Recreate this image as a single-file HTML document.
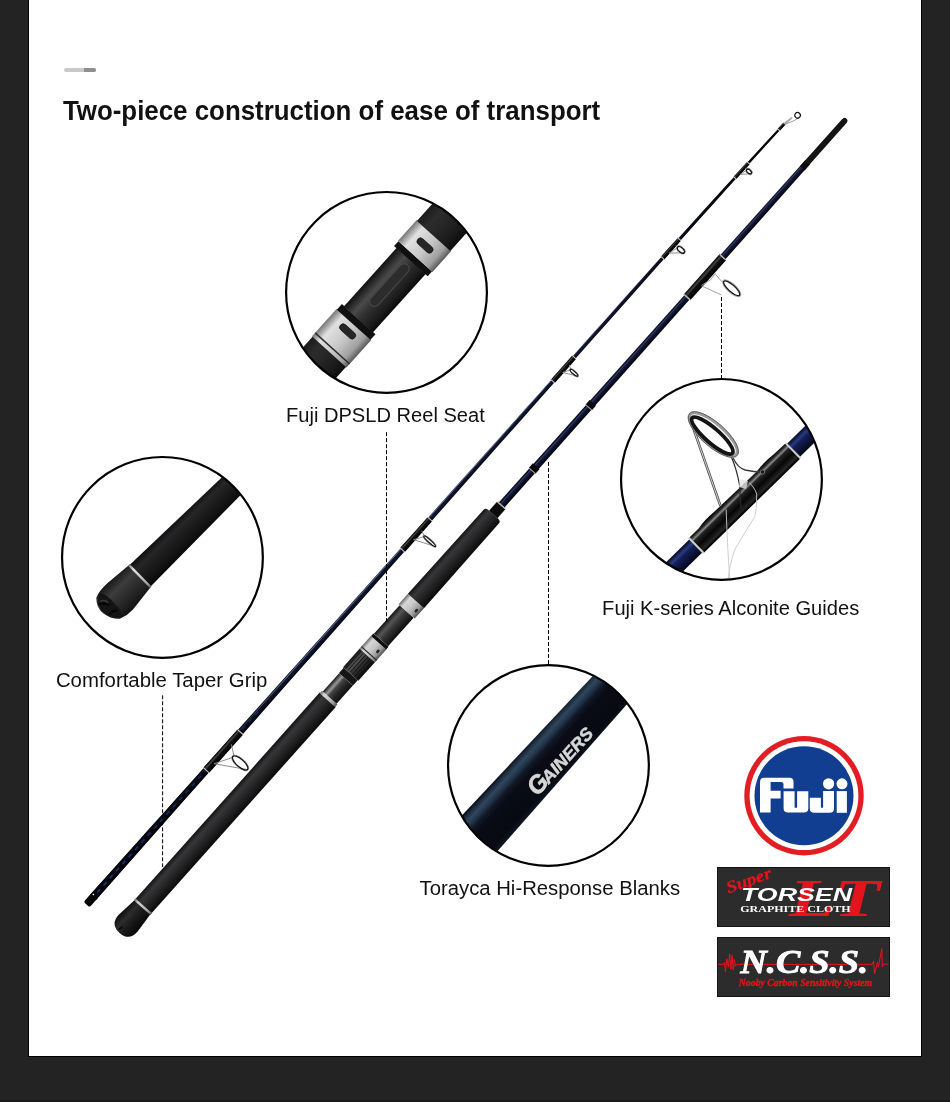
<!DOCTYPE html><html><head><meta charset="utf-8"><style>html,body{margin:0;padding:0;background:#232323;width:950px;height:1102px;overflow:hidden}svg{display:block;will-change:transform}</style></head><body><svg width="950" height="1102" viewBox="0 0 950 1102"><defs><linearGradient id="foam" x1="0" y1="0" x2="0" y2="1"><stop offset="0" stop-color="#131313"/><stop offset="0.25" stop-color="#363638"/><stop offset="0.45" stop-color="#2c2c2e"/><stop offset="0.75" stop-color="#1a1a1a"/><stop offset="1" stop-color="#0a0a0a"/></linearGradient><linearGradient id="foam2" x1="0" y1="0" x2="0" y2="1"><stop offset="0" stop-color="#1a1a1a"/><stop offset="0.25" stop-color="#2c2c2c"/><stop offset="0.5" stop-color="#262626"/><stop offset="0.8" stop-color="#1a1a1a"/><stop offset="1" stop-color="#0d0d0d"/></linearGradient><linearGradient id="silver" x1="0" y1="0" x2="0" y2="1"><stop offset="0" stop-color="#6a6a6a"/><stop offset="0.2" stop-color="#d6d6d6"/><stop offset="0.5" stop-color="#c6c6c6"/><stop offset="0.8" stop-color="#9a9a9a"/><stop offset="1" stop-color="#505050"/></linearGradient><linearGradient id="seat" x1="0" y1="0" x2="0" y2="1"><stop offset="0" stop-color="#121212"/><stop offset="0.28" stop-color="#555"/><stop offset="0.5" stop-color="#383838"/><stop offset="0.85" stop-color="#1a1a1a"/><stop offset="1" stop-color="#0c0c0c"/></linearGradient><linearGradient id="navy" x1="0" y1="0" x2="0" y2="1"><stop offset="0" stop-color="#04050a"/><stop offset="0.18" stop-color="#121630"/><stop offset="0.3" stop-color="#36406e"/><stop offset="0.4" stop-color="#161b3a"/><stop offset="0.7" stop-color="#0b0d22"/><stop offset="1" stop-color="#020306"/></linearGradient><linearGradient id="blk" x1="0" y1="0" x2="0" y2="1"><stop offset="0" stop-color="#000"/><stop offset="0.3" stop-color="#444"/><stop offset="0.45" stop-color="#111"/><stop offset="1" stop-color="#000"/></linearGradient><linearGradient id="thin" x1="0" y1="0" x2="0" y2="1"><stop offset="0" stop-color="#020206"/><stop offset="0.15" stop-color="#10142a"/><stop offset="0.28" stop-color="#5a6890"/><stop offset="0.36" stop-color="#161b34"/><stop offset="0.7" stop-color="#090b1a"/><stop offset="1" stop-color="#010103"/></linearGradient><linearGradient id="tipdark" x1="0" y1="0" x2="1" y2="0"><stop offset="0" stop-color="rgba(0,0,0,0)"/><stop offset="0.5" stop-color="rgba(0,0,0,0.5)"/><stop offset="1" stop-color="rgba(0,0,0,0.8)"/></linearGradient><linearGradient id="gripc" x1="0" y1="0" x2="0" y2="1"><stop offset="0" stop-color="#0e0e0e"/><stop offset="0.25" stop-color="#262628"/><stop offset="0.45" stop-color="#1e1e1e"/><stop offset="0.75" stop-color="#141414"/><stop offset="1" stop-color="#080808"/></linearGradient><linearGradient id="capg" x1="0" y1="0" x2="0" y2="1"><stop offset="0" stop-color="#181818"/><stop offset="0.3" stop-color="#3c3c3c"/><stop offset="0.55" stop-color="#2e2e2e"/><stop offset="0.85" stop-color="#1c1c1c"/><stop offset="1" stop-color="#101010"/></linearGradient><linearGradient id="buttdark" x1="0" y1="0" x2="1" y2="0"><stop offset="0" stop-color="rgba(2,2,6,0.92)"/><stop offset="0.7" stop-color="rgba(2,2,6,0.75)"/><stop offset="1" stop-color="rgba(2,2,6,0)"/></linearGradient><linearGradient id="capd" x1="0" y1="0" x2="0" y2="1"><stop offset="0" stop-color="#0c0c0c"/><stop offset="0.3" stop-color="#2c2c2c"/><stop offset="0.55" stop-color="#1c1c1c"/><stop offset="1" stop-color="#060606"/></linearGradient><linearGradient id="carbon" x1="0" y1="0" x2="0" y2="1"><stop offset="0" stop-color="#111"/><stop offset="0.25" stop-color="#9a9a9a"/><stop offset="0.4" stop-color="#444"/><stop offset="0.7" stop-color="#222"/><stop offset="1" stop-color="#111"/></linearGradient><linearGradient id="cnavy" x1="0" y1="0" x2="0" y2="1"><stop offset="0" stop-color="#05060c"/><stop offset="0.05" stop-color="#0b101c"/><stop offset="0.1" stop-color="#1c2a3a"/><stop offset="0.18" stop-color="#30465a"/><stop offset="0.26" stop-color="#22344a"/><stop offset="0.34" stop-color="#111826"/><stop offset="0.45" stop-color="#090c16"/><stop offset="0.85" stop-color="#070a12"/><stop offset="0.95" stop-color="#0f1420"/><stop offset="1" stop-color="#04050a"/></linearGradient><linearGradient id="gnavy" x1="0" y1="0" x2="0" y2="1"><stop offset="0" stop-color="#050a20"/><stop offset="0.25" stop-color="#2a3c80"/><stop offset="0.4" stop-color="#13205a"/><stop offset="1" stop-color="#040818"/></linearGradient><linearGradient id="gblk" x1="0" y1="0" x2="0" y2="1"><stop offset="0" stop-color="#000"/><stop offset="0.14" stop-color="#2a2a2a"/><stop offset="0.24" stop-color="#8c8c8c"/><stop offset="0.32" stop-color="#242424"/><stop offset="0.6" stop-color="#060606"/><stop offset="0.86" stop-color="#262626"/><stop offset="0.93" stop-color="#0a0a0a"/><stop offset="1" stop-color="#000"/></linearGradient><linearGradient id="cseat" x1="0" y1="0" x2="0" y2="1"><stop offset="0" stop-color="#111"/><stop offset="0.3" stop-color="#4a4a4a"/><stop offset="0.5" stop-color="#333"/><stop offset="0.85" stop-color="#1a1a1a"/><stop offset="1" stop-color="#0a0a0a"/></linearGradient><linearGradient id="csilver" x1="0" y1="0" x2="0" y2="1"><stop offset="0" stop-color="#777"/><stop offset="0.2" stop-color="#e0e0e0"/><stop offset="0.55" stop-color="#c8c8c8"/><stop offset="0.85" stop-color="#a0a0a0"/><stop offset="1" stop-color="#5a5a5a"/></linearGradient><clipPath id="clip_c1"><circle cx="386.5" cy="292.4" r="99.9"/></clipPath><clipPath id="clip_c2"><circle cx="162.45" cy="557.4" r="99.9"/></clipPath><clipPath id="clip_c3"><circle cx="721.45" cy="479.4" r="99.9"/></clipPath><clipPath id="clip_c4"><circle cx="548.45" cy="765.45" r="99.9"/></clipPath></defs><rect width="950" height="1102" fill="#232323"/><rect x="0" y="1100" width="950" height="2" fill="#1b1b1b"/><rect x="28" y="0" width="894" height="1057" fill="#000"/><rect x="29" y="0" width="892" height="1056" fill="#fff"/><rect x="64" y="68" width="32" height="4" rx="2" fill="#c9c9c9"/><path d="M84 68H94A2 2 0 0 1 94 72H84Z" fill="#8f8f8f"/><text x="62.9" y="119.7" font-size="26.8" font-weight="bold" fill="#111" textLength="537.3" lengthAdjust="spacingAndGlyphs" font-family="Liberation Sans, sans-serif">Two-piece construction of ease of transport</text><g transform="translate(142.9,906.8) rotate(-48.2431)"><path d="M0 -10.6 L-22 -12.8 Q-35 -13 -35 0 Q-35 12.8 -22 12.6 L0 10.6Z" fill="url(#capd)"/><path d="M-33 -3 L-28 -2" stroke="#000" stroke-width="1.2"/><rect x="-1.2" y="-11.1" width="2.4" height="22.2" fill="url(#silver)" /><rect x="1.2" y="-10.8" width="276.3" height="21.6" fill="url(#foam)" /><rect x="277" y="-10.3" width="3.5" height="20.6" fill="url(#silver)" /><rect x="280.5" y="-9.2" width="24.5" height="18.4" fill="url(#carbon)" /><rect x="305" y="-9.4" width="7" height="18.8" fill="#151515" /><rect x="312" y="-10.2" width="25" height="20.4" fill="url(#seat)" /><line x1="313" x2="336" y1="-7.5" y2="-7.5" stroke="#0c0c0c" stroke-width="0.8"/><line x1="313" x2="336" y1="-4.5" y2="-4.5" stroke="#0c0c0c" stroke-width="0.8"/><line x1="313" x2="336" y1="-1.5" y2="-1.5" stroke="#0c0c0c" stroke-width="0.8"/><line x1="313" x2="336" y1="1.5" y2="1.5" stroke="#0c0c0c" stroke-width="0.8"/><line x1="313" x2="336" y1="4.5" y2="4.5" stroke="#0c0c0c" stroke-width="0.8"/><line x1="313" x2="336" y1="7.5" y2="7.5" stroke="#0c0c0c" stroke-width="0.8"/><rect x="337" y="-10.3" width="17" height="20.6" fill="url(#silver)" /><rect x="339" y="-10.3" width="1.2" height="20.6" fill="#222" /><rect x="345" y="4" width="4" height="2.4" rx="1" fill="#222"/><rect x="354" y="-10.1" width="3.5" height="20.2" fill="#0c0c0c" /><rect x="357.5" y="-9.4" width="38.5" height="18.8" fill="url(#seat)" /><rect x="396" y="-10.8" width="14" height="21.6" fill="url(#silver)" /><rect x="401" y="5.5" width="4" height="2.4" rx="1" fill="#222"/><path d="M410 -10.8 L523 -10.2 Q526 -10.2 526 -7 L526 7 Q526 10.2 523 10.2 L410 10.8Z" fill="url(#foam)"/><rect x="526" y="-5.6" width="12" height="11.2" fill="#0c0c0c" /><rect x="537.5" y="-5.2" width="2" height="10.4" fill="#bbb" /><path d="M539 -3.8L992 -3.1L992 3.1L539 3.8Z" fill="url(#navy)" /><rect x="584.5" y="-4.4" width="6" height="8.8" fill="#080808" /><rect x="584" y="-4.4" width="1" height="8.8" fill="#aaa" /><rect x="669.5" y="-4.2" width="6" height="8.4" fill="#080808" /><rect x="669" y="-4.2" width="1" height="8.4" fill="#aaa" /><rect x="817" y="-4.4" width="54" height="8.8" fill="url(#blk)" /><rect x="816.5" y="-4.4" width="1.5" height="8.8" fill="#bbb" /><rect x="870" y="-4.2" width="1.5" height="8.4" fill="#bbb" /><path d="M992 -3.1 L1053 -2.9 Q1056.5 -2.9 1056.5 0 Q1056.5 2.9 1053 2.9 L992 3.1Z" fill="#141414"/><rect x="990" y="-3.2" width="8" height="6.4" fill="#0a0a0a" /><g fill="none" stroke="#a0a0a0" stroke-width="0.9"><path d="M835.2 3 L841.7 24 M853.4 4.6 L851.7 16.9 M836 3 L846 6 L853 5"/></g><ellipse cx="853.5" cy="27.3" rx="4.3" ry="11.4" fill="none" stroke="#b0b0b0" stroke-width="1.3"/><ellipse cx="853.5" cy="27.3" rx="3.4" ry="10.4" fill="none" stroke="#1a1a1a" stroke-width="1.3"/></g><g transform="translate(86.6,904.6) rotate(-48.3069)"><path d="M10 -3.87 L20 -3.83 L40 -3.77 L60 -3.7 L80 -3.63 L100 -3.57 L120 -3.5 L140 -3.43 L160 -3.37 L180 -3.32 L200 -3.27 L220 -3.21 L240 -3.16 L260 -3.11 L280 -3.06 L300 -3 L320 -2.95 L340 -2.9 L360 -2.85 L380 -2.8 L400 -2.75 L420 -2.7 L440 -2.65 L460 -2.6 L480 -2.55 L500 -2.5 L520 -2.45 L540 -2.4 L560 -2.35 L580 -2.3 L600 -2.25 L620 -2.2 L640 -2.15 L660 -2.1 L680 -2.05 L700 -2 L720 -1.96 L740 -1.92 L760 -1.88 L780 -1.84 L800 -1.8 L820 -1.76 L840 -1.71 L860 -1.61 L880 -1.47 L900 -1.3 L920 -1.11 L940 -0.89 L960 -0.65 L980 -0.39 L1000 -0.09 L1020 0.23 L1040 0.57 L1047 0.7 L1047 2.5 L1040 2.43 L1020 2.26 L1000 2.11 L980 1.97 L960 1.87 L940 1.79 L920 1.73 L900 1.7 L880 1.69 L860 1.71 L840 1.73 L820 1.76 L800 1.8 L780 1.84 L760 1.88 L740 1.92 L720 1.96 L700 2 L680 2.05 L660 2.1 L640 2.15 L620 2.2 L600 2.25 L580 2.3 L560 2.35 L540 2.4 L520 2.45 L500 2.5 L480 2.55 L460 2.6 L440 2.65 L420 2.7 L400 2.75 L380 2.8 L360 2.85 L340 2.9 L320 2.95 L300 3 L280 3.06 L260 3.11 L240 3.16 L220 3.21 L200 3.27 L180 3.32 L160 3.37 L140 3.43 L120 3.5 L100 3.57 L80 3.63 L60 3.7 L40 3.77 L20 3.83 L10 3.87Z" fill="url(#thin)"/><path d="M780 -1.89 L800 -1.85 L820 -1.81 L840 -1.76 L860 -1.66 L880 -1.52 L900 -1.35 L920 -1.16 L940 -0.94 L960 -0.7 L980 -0.44 L1000 -0.14 L1020 0.18 L1040 0.52 L1047 0.65 L1047 2.55 L1040 2.48 L1020 2.31 L1000 2.16 L980 2.02 L960 1.92 L940 1.84 L920 1.78 L900 1.75 L880 1.74 L860 1.76 L840 1.78 L820 1.81 L800 1.85 L780 1.89Z" fill="url(#tipdark)"/><path d="M10 -3.92 L20 -3.88 L40 -3.82 L60 -3.75 L80 -3.68 L100 -3.62 L120 -3.55 L140 -3.48 L160 -3.42 L180 -3.37 L200 -3.32 L220 -3.26 L240 -3.21 L260 -3.16 L280 -3.11 L300 -3.05 L300 3.05 L280 3.11 L260 3.16 L240 3.21 L220 3.26 L200 3.32 L180 3.37 L160 3.42 L140 3.48 L120 3.55 L100 3.62 L80 3.68 L60 3.75 L40 3.82 L20 3.88 L10 3.92Z" fill="url(#buttdark)"/><rect x="16" y="-1.0" width="4.5" height="1.7" fill="#1c3c94" opacity="0.9"/><rect x="25.5" y="-1.0" width="4.5" height="1.7" fill="#1c3c94" opacity="0.88"/><rect x="35" y="-1.0" width="4.5" height="1.7" fill="#1c3c94" opacity="0.86"/><rect x="44.5" y="-1.0" width="4.5" height="1.7" fill="#1c3c94" opacity="0.84"/><rect x="54" y="-1.0" width="4.5" height="1.7" fill="#1c3c94" opacity="0.82"/><rect x="63.5" y="-1.0" width="4.5" height="1.7" fill="#1c3c94" opacity="0.8"/><rect x="73" y="-1.0" width="4.5" height="1.7" fill="#1c3c94" opacity="0.78"/><rect x="82.5" y="-1.0" width="4.5" height="1.7" fill="#1c3c94" opacity="0.76"/><rect x="92" y="-1.0" width="4.5" height="1.7" fill="#1c3c94" opacity="0.74"/><rect x="101.5" y="-1.0" width="4.5" height="1.7" fill="#1c3c94" opacity="0.72"/><rect x="111" y="-1.0" width="4.5" height="1.7" fill="#1c3c94" opacity="0.7"/><rect x="120.5" y="-1.0" width="4.5" height="1.7" fill="#1c3c94" opacity="0.68"/><rect x="130" y="-1.0" width="4.5" height="1.7" fill="#1c3c94" opacity="0.66"/><rect x="139.5" y="-1.0" width="4.5" height="1.7" fill="#1c3c94" opacity="0.64"/><rect x="149" y="-1.0" width="4.5" height="1.7" fill="#1c3c94" opacity="0.62"/><rect x="158.5" y="-1.0" width="4.5" height="1.7" fill="#1c3c94" opacity="0.6"/><rect x="168" y="-1.0" width="4.5" height="1.7" fill="#1c3c94" opacity="0.58"/><rect x="177.5" y="-1.0" width="4.5" height="1.7" fill="#1c3c94" opacity="0.56"/><rect x="187" y="-1.0" width="4.5" height="1.7" fill="#1c3c94" opacity="0.54"/><rect x="196.5" y="-1.0" width="4.5" height="1.7" fill="#1c3c94" opacity="0.52"/><rect x="206" y="-1.0" width="4.5" height="1.7" fill="#1c3c94" opacity="0.5"/><rect x="215.5" y="-1.0" width="4.5" height="1.7" fill="#1c3c94" opacity="0.48"/><rect x="225" y="-1.0" width="4.5" height="1.7" fill="#1c3c94" opacity="0.46"/><rect x="234.5" y="-1.0" width="4.5" height="1.7" fill="#1c3c94" opacity="0.44"/><rect x="244" y="-1.0" width="4.5" height="1.7" fill="#1c3c94" opacity="0.42"/><rect x="253.5" y="-1.0" width="4.5" height="1.7" fill="#1c3c94" opacity="0.4"/><path d="M12 -4.1 L2 -4.1 Q0 -4.1 0 -2 L0 2 Q0 4.1 2 4.1 L12 4.1Z" fill="#050505"/><rect x="11.5" y="-2.5" width="1.2" height="1.6" fill="#fff"/><path d="M180 -3.92 L200 -3.87 L220 -3.81 L231 -3.79 L231 3.79 L220 3.81 L200 3.87 L180 3.92Z" fill="url(#blk)"/><path d="M179.4 -4.22 L180.4 -4.22 L180.4 4.22 L179.4 4.22Z" fill="#ccc"/><path d="M230.6 -4.09 L231.6 -4.08 L231.6 4.08 L230.6 4.09Z" fill="#ccc"/><path d="M475 -3.16 L480 -3.15 L500 -3.1 L516 -3.06 L516 3.06 L500 3.1 L480 3.15 L475 3.16Z" fill="url(#blk)"/><path d="M474.4 -3.46 L475.4 -3.46 L475.4 3.46 L474.4 3.46Z" fill="#ccc"/><path d="M515.6 -3.36 L516.6 -3.36 L516.6 3.36 L515.6 3.36Z" fill="#ccc"/><path d="M701 -2.6 L720 -2.56 L733 -2.53 L733 2.53 L720 2.56 L701 2.6Z" fill="url(#blk)"/><path d="M700.4 -2.9 L701.4 -2.9 L701.4 2.9 L700.4 2.9Z" fill="#ccc"/><path d="M732.6 -2.83 L733.6 -2.83 L733.6 2.83 L732.6 2.83Z" fill="#ccc"/><path d="M866 -2.17 L880 -2.07 L891 -1.98 L891 2.29 L880 2.29 L866 2.3Z" fill="url(#blk)"/><path d="M865.4 -2.47 L866.4 -2.47 L866.4 2.6 L865.4 2.6Z" fill="#ccc"/><path d="M890.6 -2.28 L891.6 -2.27 L891.6 2.59 L890.6 2.59Z" fill="#ccc"/><path d="M974 -1.07 L980 -0.99 L994 -0.78 L994 2.66 L980 2.57 L974 2.54Z" fill="url(#blk)"/><path d="M973.4 -1.38 L974.4 -1.36 L974.4 2.84 L973.4 2.84Z" fill="#ccc"/><path d="M993.6 -1.09 L994.6 -1.08 L994.6 2.97 L993.6 2.96Z" fill="#ccc"/><path d="M1039 -0.04 L1040 -0.03 L1047.5 0.11 L1047.5 3.11 L1040 3.03 L1039 3.02Z" fill="url(#blk)"/><path d="M1038.4 -0.36 L1039.4 -0.34 L1039.4 3.33 L1038.4 3.32Z" fill="#ccc"/><path d="M1047.1 -0.2 L1048.1 -0.18 L1048.1 3.42 L1047.1 3.4Z" fill="#ccc"/><path d="M1047 0.6 L1057 2.4 L1057 4.2 L1047 3.0Z" fill="#a8a8a8"/><path d="M190 1.5 L207.9 30.5 M190 1.5 L206.7 11 M216 1.5 L209.1 11" stroke="#8a8a8a" stroke-width="0.9" fill="none"/><ellipse cx="207.9" cy="20.5" rx="4.7" ry="10.7" fill="none" stroke="#aaa" stroke-width="0.9"/><ellipse cx="207.9" cy="20.5" rx="3.8" ry="9.8" fill="none" stroke="#151515" stroke-width="1.3"/><path d="M490 1.5 L499.5 22.5 M490 1.5 L499.02 7 M502 1.5 L499.98 7" stroke="#8a8a8a" stroke-width="0.9" fill="none"/><ellipse cx="499.5" cy="14.5" rx="2.3" ry="8.7" fill="none" stroke="#aaa" stroke-width="0.9"/><ellipse cx="499.5" cy="14.5" rx="1.4" ry="7.8" fill="none" stroke="#151515" stroke-width="1.3"/><path d="M714 1.5 L721.3 15.4 M714 1.5 L720.82 5.5 M724 1.5 L721.78 5.5" stroke="#8a8a8a" stroke-width="0.9" fill="none"/><ellipse cx="721.3" cy="10.2" rx="2.3" ry="5.9" fill="none" stroke="#aaa" stroke-width="0.9"/><ellipse cx="721.3" cy="10.2" rx="1.4" ry="5" fill="none" stroke="#151515" stroke-width="1.3"/><path d="M874 1.63 L884.2 12.8 M874 1.63 L883.45 4.3 M884 1.63 L884.95 4.3" stroke="#8a8a8a" stroke-width="0.9" fill="none"/><ellipse cx="884.2" cy="8.3" rx="3.2" ry="5.2" fill="none" stroke="#aaa" stroke-width="0.9"/><ellipse cx="884.2" cy="8.3" rx="2.3" ry="4.3" fill="none" stroke="#151515" stroke-width="1.3"/><path d="M980 2.38 L988 10.2 M980 2.38 L987.4 4.3 M988 2.38 L988.6 4.3" stroke="#8a8a8a" stroke-width="0.9" fill="none"/><ellipse cx="988" cy="7" rx="2.7" ry="3.9" fill="none" stroke="#aaa" stroke-width="0.9"/><ellipse cx="988" cy="7" rx="1.8" ry="3" fill="none" stroke="#151515" stroke-width="1.3"/><path d="M1048 3 Q1056 7.5 1062.5 8.8" stroke="#888" stroke-width="0.8" fill="none"/><circle cx="1062.3" cy="5.9" r="2.8" fill="none" stroke="#111" stroke-width="1.2"/></g><line x1="386.5" y1="432.2" x2="386.5" y2="622" stroke="#000" stroke-width="1" stroke-dasharray="4 2"/><line x1="162.6" y1="695.3" x2="162.6" y2="867" stroke="#000" stroke-width="1" stroke-dasharray="4 2"/><line x1="721.5" y1="297" x2="721.5" y2="379" stroke="#000" stroke-width="1" stroke-dasharray="4 2"/><line x1="548.5" y1="462" x2="548.5" y2="664" stroke="#000" stroke-width="1" stroke-dasharray="4 2"/><g clip-path="url(#clip_c1)"><g transform="translate(387,292.2) rotate(-48)"><g transform="translate(0,-3)"><rect x="-200" y="-22.5" width="118" height="45" fill="url(#foam2)" /><rect x="-83" y="-23.2" width="37" height="46.4" fill="url(#csilver)" /><rect x="-79" y="-23.2" width="1.4" height="46.4" fill="#2a2a2a" /><rect x="-59" y="-9.5" width="7" height="19" rx="3.5" fill="#262626" stroke="#151515" stroke-width="0.8"/><rect x="-46.5" y="-22.6" width="7.5" height="45.2" fill="#101010" /><rect x="-39.5" y="-19.5" width="79" height="39" fill="url(#cseat)" /><rect x="-20" y="-5" width="54" height="10" rx="5" fill="#2c2c2c" stroke="#4a4a4a" stroke-width="1"/><rect x="39" y="-22.6" width="6.5" height="45.2" fill="#101010" /><rect x="45.5" y="-23.2" width="28" height="46.4" fill="url(#csilver)" /><rect x="56.6" y="-9.5" width="7" height="19" rx="3.5" fill="#262626" stroke="#151515" stroke-width="0.8"/><rect x="73" y="-22.5" width="127" height="45" fill="url(#foam2)" /></g></g></g><g clip-path="url(#clip_c2)"><g transform="translate(163,557.2) rotate(-44.5)"><g transform="translate(0,-2.8)"><path d="M-29 -15L140 -12.2L140 12.2L-29 15Z" fill="url(#gripc)" /><path d="M-30 -15.5 L-58 -17.6 Q-70 -18 -76 -15 Q-83 -8 -82 0 Q-81 10 -74 16.5 Q-66 19.5 -58 19 L-30 15.6Z" fill="url(#capg)"/><path d="M-70 -16 Q-80 -12 -81.5 -2 Q-81 9 -73 16 Q-66 13 -67 2 Q-66 -10 -70 -16Z" fill="#141414"/><path d="M-79 -9 Q-74 -6 -72 -1 M-79 6 Q-74 5 -70 9" stroke="#050505" stroke-width="2.2" fill="none"/><path d="M-76 -10 Q-71 -8 -71 -3" stroke="#3a3a3a" stroke-width="1.5" fill="none"/><rect x="-31" y="-15.6" width="2.4" height="31.2" fill="url(#csilver)" /></g></g></g><g clip-path="url(#clip_c3)"><g transform="translate(722,480.3) rotate(-44.4)"><g transform="translate(0,28.6)"><rect x="-200" y="-9.2" width="400" height="18.4" fill="url(#gnavy)" /><path d="M-64 -10.6 L-50 -10.6 Q-40 -12.5 -28 -11.5 L30 -10.6 Q44 -12.5 56 -11 L71 -10.6 L71 10.6 L-64 10.6Z" fill="url(#gblk)"/><rect x="-65" y="-10.8" width="2" height="21.6" fill="#d0d0d0" /><rect x="70.5" y="-10.6" width="2" height="21.2" fill="#d0d0d0" /></g></g></g><g clip-path="url(#clip_c3)"><path d="M691.5 423 L720.5 506" stroke="#555" stroke-width="2.6" fill="none"/><path d="M691.5 423 L720.5 506" stroke="#cfcfcf" stroke-width="1" fill="none"/><path d="M731 456 Q737 470 739.5 485 L741 509" stroke="#2a2a2a" stroke-width="1.2" fill="none"/><path d="M733 458 Q738 468 745 470 Q754 472 762 472" stroke="#3a3a3a" stroke-width="1.4" fill="none"/><ellipse cx="713.3" cy="434.5" rx="30.5" ry="10.6" transform="rotate(41.3 713.3 434.5)" fill="none" stroke="#9c9c9c" stroke-width="3"/><ellipse cx="712.3" cy="435.6" rx="26.8" ry="7.2" transform="rotate(41.3 712.3 435.6)" fill="none" stroke="#141414" stroke-width="3.8"/><ellipse cx="713.3" cy="434.5" rx="31.8" ry="11.9" transform="rotate(41.3 713.3 434.5)" fill="none" stroke="#444" stroke-width="0.7"/><path d="M740 479 L748 481 L746 489 L739 487Z" fill="#e4e4e4" opacity="0.8"/><circle cx="762.5" cy="472" r="2.2" fill="#1a1a1a" stroke="#888" stroke-width="0.8"/><path d="M749.5 482.6 Q758 492 756.6 497 Q757 508 754.8 516.6 Q745 532 735.2 548.8 Q730 562 728 580 M726.2 509.5 Q727 540 729.8 580" stroke="#c9c9c9" stroke-width="0.9" fill="none"/></g><g clip-path="url(#clip_c4)"><g transform="translate(549,765.8) rotate(-47.7)"><g transform="translate(0,-5.9)"><path d="M-200 -26.8L200 -20.5L200 20.5L-200 26.8Z" fill="url(#cnavy)" /></g></g></g><g clip-path="url(#clip_c4)"><g transform="translate(549,765.8) rotate(-47.7)" fill="#d6d6d6" font-family="Liberation Sans, sans-serif" font-weight="bold"><text x="-31" y="12.3" font-size="25" font-style="italic" stroke="#d6d6d6" stroke-width="0.6">G</text><text x="-14" y="12.3" font-size="17.5" font-style="italic" textLength="68" lengthAdjust="spacingAndGlyphs" stroke="#d6d6d6" stroke-width="0.5">AINERS</text></g></g><circle cx="386.5" cy="292.4" r="100.4" fill="none" stroke="#000" stroke-width="2.2"/><circle cx="162.45" cy="557.4" r="100.4" fill="none" stroke="#000" stroke-width="2.2"/><circle cx="721.45" cy="479.4" r="100.4" fill="none" stroke="#000" stroke-width="2.2"/><circle cx="548.45" cy="765.45" r="100.4" fill="none" stroke="#000" stroke-width="2.2"/><text x="286" y="422" font-size="20" fill="#111" textLength="198.8" lengthAdjust="spacingAndGlyphs" font-family="Liberation Sans, sans-serif">Fuji DPSLD Reel Seat</text><text x="55.9" y="686.8" font-size="20" fill="#111" textLength="211.4" lengthAdjust="spacingAndGlyphs" font-family="Liberation Sans, sans-serif">Comfortable Taper Grip</text><text x="602.1" y="614.6" font-size="20" fill="#111" textLength="257.1" lengthAdjust="spacingAndGlyphs" font-family="Liberation Sans, sans-serif">Fuji K-series Alconite Guides</text><text x="419.5" y="894.8" font-size="20" fill="#111" textLength="260.6" lengthAdjust="spacingAndGlyphs" font-family="Liberation Sans, sans-serif">Torayca Hi-Response Blanks</text><circle cx="804" cy="795.7" r="59.7" fill="#e31d24"/><circle cx="804" cy="795.7" r="54.4" fill="#fff"/><circle cx="804" cy="795.7" r="49.5" fill="#123e91"/><g fill="#fff"><path d="M760 812.6 V782 Q760 777.8 764.2 777.8 H789.5 Q793.5 777.8 793.5 781.8 V788.4 H783.5 V784.5 Q783.5 781.9 781 781.9 H770.6 V790.7 H780.6 V798.4 H770.6 V812.6 Z"/><path d="M783.6 791.2 H794.6 V807.8 H797.1 V791.2 H808.3 V808.2 Q808.3 812.6 803.9 812.6 H788 Q783.6 812.6 783.6 808.2 Z"/><path d="M809.8 797.8 H820.9 V807.8 H823.1 V791.1 H834 V808.4 Q834 812.8 829.6 812.8 H814.2 Q809.8 812.8 809.8 808.4 Z"/><rect x="836.7" y="791.1" width="10.2" height="21.7"/><circle cx="828.6" cy="783.8" r="5.6"/><circle cx="842" cy="783.8" r="5.5"/></g><rect x="717.5" y="867.5" width="172" height="59" fill="#2c2c2c" stroke="#141414" stroke-width="1"/><text x="789" y="916.3" font-size="52" font-weight="bold" font-style="italic" fill="#e3141c" font-family="Liberation Serif, serif" textLength="91" lengthAdjust="spacingAndGlyphs">LT</text><text x="0" y="0" transform="translate(728.5,893.5) rotate(-20)" font-size="17" font-weight="bold" font-style="italic" fill="#e3141c" stroke="#e3141c" stroke-width="0.3" font-family="Liberation Serif, serif" textLength="47" lengthAdjust="spacingAndGlyphs">Super</text><text x="741" y="900.5" font-size="18.6" font-weight="bold" font-style="italic" fill="#fff" font-family="Liberation Sans, sans-serif" textLength="111" lengthAdjust="spacingAndGlyphs">TORSEN</text><text x="740.2" y="912.4" font-size="9" font-weight="bold" fill="#fff" font-family="Liberation Serif, serif" textLength="110.5" lengthAdjust="spacingAndGlyphs">GRAPHITE CLOTH</text><rect x="717.5" y="937.5" width="172" height="59" fill="#2c2c2c" stroke="#141414" stroke-width="1"/><path d="M718 964.4 H723.1 L724.5 962.5 L725.4 971.9 L726.8 958.7 L728.3 967.2 L729.7 953.9 L730.9 969.1 L732.1 955.4 L733.2 970.1 L734.4 959.6 L735.4 966.3 L736.6 964.4 H872.1 L873.6 961.1 L874.6 973.7 L877.5 962.1 L878.4 967 L881.8 948.6 L882.3 967 L883.3 964.2 H888.5" fill="none" stroke="#e3141c" stroke-width="1"/><text x="740.5" y="973.4" font-size="33" font-weight="bold" font-style="italic" fill="#fff" stroke="#fff" stroke-width="0.9" font-family="Liberation Serif, serif" textLength="127.5" lengthAdjust="spacingAndGlyphs">N.C.S.S.</text><text x="738.8" y="986.3" font-size="9.5" font-weight="bold" font-style="italic" fill="#e3141c" stroke="#e3141c" stroke-width="0.3" font-family="Liberation Serif, serif" textLength="133.3" lengthAdjust="spacingAndGlyphs">Nooby Carbon Sensitivity System</text></svg></body></html>
